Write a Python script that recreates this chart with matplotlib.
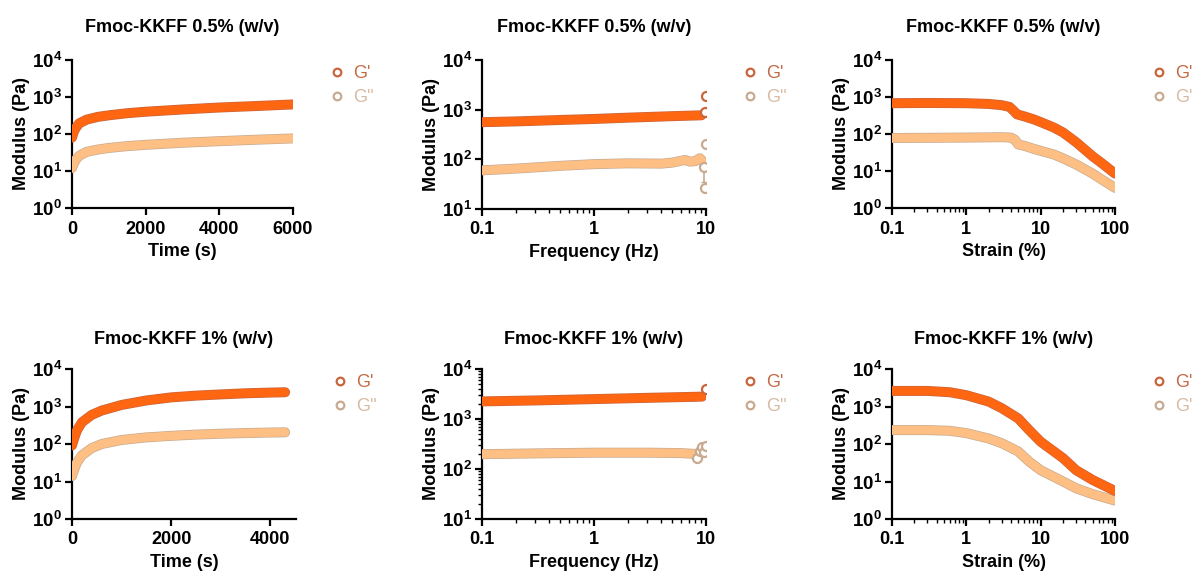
import numpy as np
import matplotlib
matplotlib.use("Agg")
import matplotlib.pyplot as plt
from matplotlib.lines import Line2D
import matplotlib.patheffects as pe
from matplotlib.ticker import FixedLocator, FixedFormatter, LogLocator, NullFormatter

plt.rcParams["font.family"] = ["Liberation Sans", "DejaVu Sans"]
plt.rcParams["mathtext.fontset"] = "custom"
plt.rcParams["mathtext.rm"] = "Liberation Sans"
plt.rcParams["mathtext.bf"] = "Liberation Sans:bold"

# ---- time sweep, 0.5 % ----
t_05 = [0, 50, 100, 200, 400, 700, 1000, 1500, 2000, 3000, 4000, 5000, 6000]
gp_t05 = [80, 115, 145, 195, 245, 290, 320, 365, 400, 460, 520, 570, 630]
gpp_t05 = [12, 16, 20, 26, 33, 38, 42, 47, 51, 58, 64, 70, 76]

# ---- time sweep, 1 % ----
t_1 = [0, 50, 100, 200, 400, 600, 1000, 1500, 2000, 2500, 3000, 3500, 4000, 4300]
gp_t1 = [92, 150, 230, 380, 600, 780, 1100, 1450, 1750, 1950, 2100, 2250, 2350, 2400]
gpp_t1 = [14, 22, 32, 50, 78, 100, 128, 150, 165, 178, 188, 196, 202, 205]

# ---- frequency sweep, 0.5 % ----
f_05 = [0.1, 0.2, 0.5, 1, 2, 5, 9.1]
gp_f05 = [560, 580, 620, 650, 690, 740, 770]
f_05_tail = [9.8, 10]
gp_f05_tail = [910, 1900]
f_05b = [0.1, 0.2, 0.5, 1, 2, 4, 5, 6.5, 7.2, 8, 8.8, 9.2]
gpp_f05 = [60, 65, 74, 80, 83, 82, 86, 97, 90, 92, 105, 95]
f_05b_tail = [9.6, 9.7, 10]
gpp_f05_tail = [70, 27, 200]

# ---- frequency sweep, 1 % ----
f_1 = [0.1, 0.3, 1, 3, 9.2]
gp_f1 = [2250, 2350, 2500, 2650, 2800]
f_1_tail = [10]
gp_f1_tail = [3900]
f_1b = [0.1, 0.3, 1, 3, 6, 8]
gpp_f1 = [198, 205, 212, 212, 208, 200]
f_1b_tail = [8.3, 8.8, 9.2, 9.6, 10]
gpp_f1_tail = [165, 230, 280, 215, 295]

# ---- strain sweep, 0.5 % ----
s_05 = [0.1, 0.3, 1, 2, 3, 3.8, 4.3, 4.8, 6, 8, 10, 15, 20, 30, 50, 70, 100]
gp_s05 = [680, 690, 680, 650, 600, 540, 430, 340, 300, 250, 210, 150, 110, 60, 25, 15, 8.5]
s_05b = [0.1, 1, 3, 4, 4.5, 5, 6, 8, 10, 15, 20, 30, 50, 70, 100]
gpp_s05 = [78, 80, 82, 80, 70, 52, 48, 40, 35, 28, 22, 15, 8.5, 5.5, 3.5]

# ---- strain sweep, 1 % ----
s_1 = [0.1, 0.3, 0.6, 1, 2, 3, 5, 7, 10, 20, 30, 50, 100]
gp_s1 = [2600, 2600, 2400, 2000, 1350, 900, 480, 235, 115, 42, 20, 11, 5.6]
gpp_s1 = [235, 235, 225, 195, 140, 105, 63, 34, 20, 10, 6.6, 4.6, 3.1]

titles = ["Fmoc-KKFF 0.5% (w/v)", "Fmoc-KKFF 1% (w/v)"]
xlabels = ["Time (s)", "Frequency (Hz)", "Strain (%)"]

C_GP = "#FF6612"
C_GPP = "#FDBF84"
E_GP = "#C9653B"
E_GPP = "#C8AA90"
T_GP = "#C46A44"
T_GPP = "#D6BBA2"

W, H = 1192, 574
fig = plt.figure(figsize=(W / 100, H / 100), dpi=100)


def axes_px(x0, x1, ytop, ybot):
    return fig.add_axes([x0 / W, 1 - ybot / H, (x1 - x0) / W, (ybot - ytop) / H])


def band(ax, x, y, c, e):
    ax.plot(x, y, color=c, lw=6.2, solid_capstyle="round", zorder=3,
            path_effects=[pe.Stroke(linewidth=7.2, foreground=e), pe.Normal()])


def tail(ax, x, y, e):
    ax.plot(x, y, "o", ms=6.5, mfc="white", mec=e, mew=1.6, ls="none", zorder=4)


def style(ax, ydecs, title, xlabel, pad):
    ax.set_yscale("log")
    ax.set_ylim(10.0 ** ydecs[0], 10.0 ** ydecs[-1])
    ax.yaxis.set_major_locator(FixedLocator([10.0 ** d for d in ydecs]))
    ax.yaxis.set_major_formatter(FixedFormatter([r"$\mathbf{10^{%d}}$" % d for d in ydecs]))
    ax.yaxis.set_minor_locator(LogLocator(base=10, subs=np.arange(2, 10)))
    ax.yaxis.set_minor_formatter(NullFormatter())
    for s in ["top", "right"]:
        ax.spines[s].set_visible(False)
    for s in ["left", "bottom"]:
        ax.spines[s].set_linewidth(1.6)
    ax.tick_params(which="major", length=5, width=1.6, pad=3)
    ax.tick_params(axis="x", which="major", labelsize=13, pad=4)
    ax.tick_params(axis="y", which="major", labelsize=13.5, pad=2)
    ax.tick_params(which="minor", length=3, width=1.0)
    for lab in ax.get_xticklabels():
        lab.set_fontweight("bold")
    ax.set_ylabel("Modulus (Pa)", fontsize=13, fontweight="bold", labelpad=1.5)
    ax.set_xlabel(xlabel, fontsize=13, fontweight="bold", labelpad=4)
    ax.set_title(title, fontsize=13, fontweight="bold", pad=pad)
    handles = [Line2D([], [], marker="o", ls="none", ms=5.5, mfc="white", mec=E_GP, mew=1.6),
               Line2D([], [], marker="o", ls="none", ms=5.5, mfc="white", mec=E_GPP, mew=1.6)]
    ax.legend(handles, ["G'", "G''"], loc="upper left", bbox_to_anchor=(1.1, 1.075),
              frameon=False, handlelength=0.6, handletextpad=0.6, labelspacing=0.4,
              fontsize=13, labelcolor=[T_GP, T_GPP])


def logx(ax, lo, hi):
    ax.set_xscale("log")
    ax.set_xlim(lo, hi)
    ax.xaxis.set_major_formatter(plt.FuncFormatter(lambda v, p: "%g" % v))
    ax.xaxis.set_minor_locator(LogLocator(base=10, subs=np.arange(2, 10)))
    ax.xaxis.set_minor_formatter(NullFormatter())


# top row: 0.5 %
ax = axes_px(72, 293, 60, 208)
band(ax, t_05, gpp_t05, C_GPP, E_GPP)
band(ax, t_05, gp_t05, C_GP, E_GP)
ax.set_xlim(0, 6000)
ax.set_xticks([0, 2000, 4000, 6000])
style(ax, [0, 1, 2, 3, 4], titles[0], xlabels[0], 20)

ax = axes_px(482, 706, 60, 209)
band(ax, f_05b, gpp_f05, C_GPP, E_GPP)
band(ax, f_05, gp_f05, C_GP, E_GP)
ax.errorbar([9.6], [70], yerr=[[35], [0]], fmt="none", ecolor=E_GPP, elinewidth=1.2, capsize=2.5, zorder=3)
tail(ax, f_05b_tail, gpp_f05_tail, E_GPP)
tail(ax, f_05_tail, gp_f05_tail, E_GP)
logx(ax, 0.1, 10)
style(ax, [1, 2, 3, 4], titles[0], xlabels[1], 20)

ax = axes_px(892, 1115, 60, 208)
band(ax, s_05b, gpp_s05, C_GPP, E_GPP)
band(ax, s_05, gp_s05, C_GP, E_GP)
logx(ax, 0.1, 100)
style(ax, [0, 1, 2, 3, 4], titles[0], xlabels[2], 20)

# bottom row: 1 %
ax = axes_px(72, 296, 369, 519)
band(ax, t_1, gpp_t1, C_GPP, E_GPP)
band(ax, t_1, gp_t1, C_GP, E_GP)
ax.set_xlim(0, 4520)
ax.set_xticks([0, 2000, 4000])
style(ax, [0, 1, 2, 3, 4], titles[1], xlabels[0], 18)

ax = axes_px(482, 706, 369, 519)
band(ax, f_1b, gpp_f1, C_GPP, E_GPP)
band(ax, f_1, gp_f1, C_GP, E_GP)
tail(ax, f_1b_tail, gpp_f1_tail, E_GPP)
tail(ax, f_1_tail, gp_f1_tail, E_GP)
logx(ax, 0.1, 10)
style(ax, [1, 2, 3, 4], titles[1], xlabels[1], 18)

ax = axes_px(892, 1115, 369, 519)
band(ax, s_1, gpp_s1, C_GPP, E_GPP)
band(ax, s_1, gp_s1, C_GP, E_GP)
logx(ax, 0.1, 100)
style(ax, [0, 1, 2, 3, 4], titles[1], xlabels[2], 18)

fig.savefig("out.png", dpi=100, facecolor="white")
